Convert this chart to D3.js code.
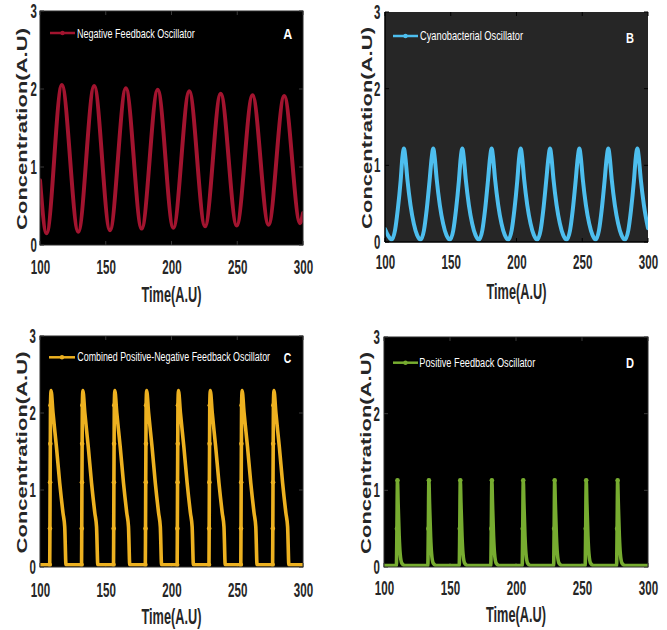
<!DOCTYPE html>
<html><head><meta charset="utf-8">
<script src="https://cdn.jsdelivr.net/npm/d3@7"></script>
<style>html,body{margin:0;padding:0;background:#fff;} svg{display:block;}</style>
</head><body><svg id="chart" width="667" height="630"></svg>
<script>
// ---------- data ----------
const timeTicks = [100, 150, 200, 250, 300];
const concTicks = [0, 1, 2, 3];
const xLabel = "Time(A.U)";
const yLabel = "Concentration(A.U)";
const seriesNames = ["Negative Feedback Oscillator", "Cyanobacterial Oscillator",
  "Combined Positive-Negative Feedback Oscillator", "Positive Feedback Oscillator"];
const panelLetters = ["A", "B", "C", "D"];

// [time, concentration]
const negativeFeedback = [
  [100,0.83],[105.0,0.15],[116.6,2.05],[129.1,0.17],[141.2,2.04],[153.2,0.19],[165.3,2.01],
  [177.3,0.21],[189.5,1.99],[201.4,0.22],[213.5,1.97],[225.5,0.24],[237.4,1.94],[249.6,0.25],
  [261.6,1.92],[273.8,0.26],[285.7,1.91],[297.8,0.28],[300,0.41]
];

const cyanobacterial = [
  [100,0.17],[102.5,0.08],[105.1,0.03],
  [107.6,0.15],[109.7,0.42],[111.9,0.8],[113.2,1.1],[114.4,1.22],[115.4,1.12],[117.0,0.82],[119.4,0.48],[121.9,0.24],[124.4,0.09],[127.1,0.03],
  [129.6,0.15],[131.7,0.42],[133.9,0.8],[135.5,1.1],[136.7,1.22],[137.7,1.12],[139.3,0.82],[141.7,0.48],[144.2,0.24],[146.7,0.09],[149.4,0.03],
  [151.9,0.15],[154.0,0.42],[156.2,0.8],[157.6,1.1],[158.8,1.22],[159.8,1.12],[161.4,0.82],[163.8,0.48],[166.3,0.24],[168.8,0.09],[171.5,0.03],
  [174.0,0.15],[176.1,0.42],[178.3,0.8],[179.9,1.1],[181.1,1.22],[182.1,1.12],[183.7,0.82],[186.1,0.48],[188.6,0.24],[191.1,0.09],[193.8,0.03],
  [196.3,0.15],[198.4,0.42],[200.6,0.8],[202.0,1.1],[203.2,1.22],[204.2,1.12],[205.8,0.82],[208.2,0.48],[210.7,0.24],[213.2,0.09],[215.8,0.03],
  [218.3,0.15],[220.4,0.42],[222.6,0.8],[224.3,1.1],[225.5,1.22],[226.5,1.12],[228.1,0.82],[230.5,0.48],[233.0,0.24],[235.5,0.09],[238.2,0.03],
  [240.7,0.15],[242.8,0.42],[245.0,0.8],[246.6,1.1],[247.8,1.22],[248.8,1.12],[250.4,0.82],[252.8,0.48],[255.3,0.24],[257.8,0.09],[260.2,0.03],
  [262.7,0.15],[264.8,0.42],[267.0,0.8],[268.6,1.1],[269.8,1.22],[270.8,1.12],[272.4,0.82],[274.8,0.48],[277.3,0.24],[279.8,0.09],[282.5,0.03],
  [285.0,0.15],[287.1,0.42],[289.3,0.8],[290.7,1.1],[291.9,1.22],[292.9,1.12],[294.5,0.82],[296.9,0.48],[300,0.18]
];

const combinedFeedback = [
  [100,0.03],
  [107.4,0.03],[107.55,0.5],[107.7,1.1],[107.85,1.6],[108.0,2.1],[108.4,2.29],[109.9,2.0],[112.5,1.56],[115.0,1.09],[117.5,0.70],[118.8,0.52],[119.2,0.3],[119.5,0.1],[119.8,0.03],
  [131.6,0.03],[131.75,0.5],[131.9,1.1],[132.05,1.6],[132.2,2.1],[132.6,2.29],[134.1,2.0],[136.7,1.56],[139.2,1.09],[141.7,0.70],[143.0,0.52],[143.4,0.3],[143.7,0.1],[144.0,0.03],
  [155.9,0.03],[156.05,0.5],[156.2,1.1],[156.35,1.6],[156.5,2.1],[156.9,2.29],[158.4,2.0],[161.0,1.56],[163.5,1.09],[166.0,0.70],[167.3,0.52],[167.7,0.3],[168.0,0.1],[168.3,0.03],
  [180.1,0.03],[180.25,0.5],[180.4,1.1],[180.55,1.6],[180.7,2.1],[181.1,2.29],[182.6,2.0],[185.2,1.56],[187.7,1.09],[190.2,0.70],[191.5,0.52],[191.9,0.3],[192.2,0.1],[192.5,0.03],
  [204.3,0.03],[204.45,0.5],[204.6,1.1],[204.75,1.6],[204.9,2.1],[205.3,2.29],[206.8,2.0],[209.4,1.56],[211.9,1.09],[214.4,0.70],[215.7,0.52],[216.1,0.3],[216.4,0.1],[216.7,0.03],
  [228.5,0.03],[228.65,0.5],[228.8,1.1],[228.95,1.6],[229.1,2.1],[229.5,2.29],[231.0,2.0],[233.6,1.56],[236.1,1.09],[238.6,0.70],[239.9,0.52],[240.3,0.3],[240.6,0.1],[240.9,0.03],
  [252.7,0.03],[252.85,0.5],[253.0,1.1],[253.15,1.6],[253.3,2.1],[253.7,2.29],[255.2,2.0],[257.8,1.56],[260.3,1.09],[262.8,0.70],[264.1,0.52],[264.5,0.3],[264.8,0.1],[265.1,0.03],
  [276.9,0.03],[277.05,0.5],[277.2,1.1],[277.35,1.6],[277.5,2.1],[277.9,2.29],[279.4,2.0],[282.0,1.56],[284.5,1.09],[287.0,0.70],[288.3,0.52],[288.7,0.3],[289.0,0.1],[289.3,0.03],
  [300,0.03]
];

const positiveFeedback = [
  [100,0.02],
  [109.4,0.02],[109.8,0.5],[110.2,1.13],[110.7,0.83],[111.5,0.40],[112.2,0.18],[113.5,0.05],[115.7,0.02],
  [133.2,0.02],[133.6,0.5],[134.0,1.13],[134.5,0.83],[135.3,0.40],[136.0,0.18],[137.3,0.05],[139.5,0.02],
  [157.0,0.02],[157.4,0.5],[157.8,1.13],[158.3,0.83],[159.1,0.40],[159.8,0.18],[161.1,0.05],[163.3,0.02],
  [180.9,0.02],[181.3,0.5],[181.7,1.13],[182.2,0.83],[183.0,0.40],[183.7,0.18],[185.0,0.05],[187.2,0.02],
  [204.7,0.02],[205.1,0.5],[205.5,1.13],[206.0,0.83],[206.8,0.40],[207.5,0.18],[208.8,0.05],[211.0,0.02],
  [228.5,0.02],[228.9,0.5],[229.3,1.13],[229.8,0.83],[230.6,0.40],[231.3,0.18],[232.6,0.05],[234.8,0.02],
  [252.4,0.02],[252.8,0.5],[253.2,1.13],[253.7,0.83],[254.5,0.40],[255.2,0.18],[256.5,0.05],[258.7,0.02],
  [276.2,0.02],[276.6,0.5],[277.0,1.13],[277.5,0.83],[278.3,0.40],[279.0,0.18],[280.3,0.05],[282.5,0.02],
  [300,0.02]
];

// ---------- layout ----------
const panels = [
  {data: negativeFeedback, color: "#A2142F", bg: "#000000", tick: "#3a3a3a", frame: "#2a2a2a", lw: 4,
   l: 40, r: 303, t: 11, b: 245, xtb: 273.5, ytr: 37, ylx: 26.5, xlb: 301.5,
   lg: {x0: 50, x1: 75, y: 33, tx: 77, tb: 37.5, tl: 118}, let: {x: 283.3, b: 39.3, w: 9}},
  {data: cyanobacterial, color: "#4DBEEE", bg: "#262626", tick: "#000000", frame: "#000000", lw: 4,
   l: 385, r: 648, t: 12, b: 242, xtb: 268.5, ytr: 380.5, ylx: 371.5, xlb: 298.5,
   lg: {x0: 393, x1: 418, y: 36, tx: 420, tb: 40, tl: 103}, let: {x: 626, b: 42.7, w: 8}},
  {data: combinedFeedback, color: "#EDB120", bg: "#000000", tick: "#3a3a3a", frame: "#2a2a2a", lw: 3.6,
   l: 40, r: 303, t: 336, b: 567, xtb: 596.7, ytr: 36, ylx: 26.5, xlb: 623.5,
   lg: {x0: 49, x1: 75, y: 357.3, tx: 77.3, tb: 361.3, tl: 193}, let: {x: 283.8, b: 362.7, w: 7.5}},
  {data: positiveFeedback, color: "#77AC30", bg: "#000000", tick: "#3a3a3a", frame: "#2a2a2a", lw: 3.6,
   l: 384, r: 648, t: 337, b: 567, xtb: 595, ytr: 380, ylx: 370.5, xlb: 622,
   lg: {x0: 393, x1: 418, y: 362.7, tx: 419.3, tb: 367.3, tl: 116}, let: {x: 626, b: 368.3, w: 8}}
];

const svg = d3.select("#chart");
svg.append("rect").attr("width", 667).attr("height", 630).attr("fill", "#fff");
const FONT = "'Liberation Sans', Arial, sans-serif";
const TXT = "#262626";

// squeeze a text horizontally (along its own direction) to a measured width
function fit(sel, width, rotate) {
  sel.each(function () {
    const t = d3.select(this);
    const ax = +t.attr("x") || 0, ay = +t.attr("y") || 0;
    const nat = this.getComputedTextLength();
    const k = width / nat;
    t.attr("x", 0).attr("y", 0)
      .attr("transform", `translate(${ax},${ay})${rotate ? " rotate(-90)" : ""} scale(${k},1)`);
  });
}

panels.forEach((p, i) => {
  const x = d3.scaleLinear().domain([100, 300]).range([p.l, p.r]);
  const y = d3.scaleLinear().domain([0, 3]).range([p.b, p.t]);
  const g = svg.append("g");

  g.append("rect").attr("x", p.l).attr("y", p.t).attr("width", p.r - p.l).attr("height", p.b - p.t)
    .attr("fill", p.bg);

  // inward ticks on four sides
  const tk = g.append("g").attr("stroke", p.tick).attr("stroke-width", 1);
  timeTicks.forEach(v => {
    tk.append("line").attr("x1", x(v)).attr("x2", x(v)).attr("y1", p.b).attr("y2", p.b - 4);
    tk.append("line").attr("x1", x(v)).attr("x2", x(v)).attr("y1", p.t).attr("y2", p.t + 4);
  });
  concTicks.forEach(v => {
    tk.append("line").attr("x1", p.l).attr("x2", p.l + 4).attr("y1", y(v)).attr("y2", y(v));
    tk.append("line").attr("x1", p.r).attr("x2", p.r - 4).attr("y1", y(v)).attr("y2", y(v));
  });

  const cid = "clip" + i;
  svg.append("clipPath").attr("id", cid).append("rect")
    .attr("x", p.l).attr("y", p.t - 2).attr("width", p.r - p.l).attr("height", p.b - p.t + 2);

  const line = d3.line().x(d => x(d[0])).y(d => y(d[1])).curve(d3.curveMonotoneX);
  const plot = g.append("g").attr("clip-path", `url(#${cid})`);
  plot.append("path").datum(p.data).attr("d", line).attr("fill", "none")
    .attr("stroke", p.color).attr("stroke-width", p.lw).attr("stroke-linejoin", "round")
    .attr("stroke-linecap", "round");
  // '.' markers: visible only where the trace is steep (rise / drop)
  const steep = p.data.filter((d, k) => {
    const a = p.data[k - 1], c = p.data[k + 1];
    const s1 = a ? Math.abs((d[1] - a[1]) / (d[0] - a[0])) : 0;
    const s2 = c ? Math.abs((c[1] - d[1]) / (c[0] - d[0])) : 0;
    return Math.max(s1, s2) > 1.5 && (i >= 2);
  });
  plot.selectAll("circle").data(steep).join("circle")
    .attr("cx", d => x(d[0])).attr("cy", d => y(d[1])).attr("r", 2.3).attr("fill", p.color);

  // frame
  if (i === 1) {
    g.append("line").attr("x1", p.l).attr("x2", p.r).attr("y1", p.b).attr("y2", p.b)
      .attr("stroke", "#000").attr("stroke-width", 1.5);
    g.append("line").attr("x1", p.l).attr("x2", p.l).attr("y1", p.t).attr("y2", p.b)
      .attr("stroke", "#000").attr("stroke-width", 1.5);
  } else {
    g.append("rect").attr("x", p.l).attr("y", p.t).attr("width", p.r - p.l).attr("height", p.b - p.t)
      .attr("fill", "none").attr("stroke", p.frame).attr("stroke-width", 1);
  }

  // x axis labels via d3 axis
  const xa = g.append("g").attr("transform", `translate(0,${p.b})`)
    .call(d3.axisBottom(x).tickValues(timeTicks).tickSize(0).tickFormat(d3.format("d")));
  xa.select(".domain").remove();
  const xt = xa.selectAll("text").attr("y", p.xtb - p.b).attr("dy", null)
    .attr("font-family", FONT).attr("font-weight", "bold").attr("font-size", 19.5).attr("fill", TXT);
  fit(xt, 19.3);

  // y axis labels via d3 axis
  const ya = g.append("g").attr("transform", `translate(${p.l},0)`)
    .call(d3.axisLeft(y).tickValues(concTicks).tickSize(0).tickFormat(d3.format("d")));
  ya.select(".domain").remove();
  const yt = ya.selectAll("text").attr("x", p.ytr - p.l).attr("dy", "0.34em").attr("text-anchor", "end")
    .attr("font-family", FONT).attr("font-weight", "bold").attr("font-size", 19.5).attr("fill", TXT);
  fit(yt, 6.4);

  // axis titles
  const xl = g.append("text").attr("x", (p.l + p.r) / 2).attr("y", p.xlb).attr("text-anchor", "middle")
    .attr("font-family", FONT).attr("font-weight", "bold").attr("font-size", 22)
    .attr("fill", TXT).text(xLabel);
  fit(xl, 60);
  const yl = g.append("text").attr("x", p.ylx).attr("y", (p.t + p.b) / 2 + 1)
    .attr("text-anchor", "middle")
    .attr("font-family", FONT).attr("font-weight", "bold").attr("font-size", 15.5)
    .attr("fill", TXT).text(yLabel);
  fit(yl, 202, true);

  // legend
  g.append("line").attr("x1", p.lg.x0).attr("x2", p.lg.x1).attr("y1", p.lg.y).attr("y2", p.lg.y)
    .attr("stroke", p.color).attr("stroke-width", 2.5);
  g.append("circle").attr("cx", (p.lg.x0 + p.lg.x1) / 2).attr("cy", p.lg.y).attr("r", 2.2).attr("fill", p.color);
  const lt = g.append("text").attr("x", p.lg.tx).attr("y", p.lg.tb)
    .attr("font-family", FONT).attr("font-size", 12.5).attr("fill", "#fff").text(seriesNames[i]);
  fit(lt, p.lg.tl);

  // panel letter
  const pl = g.append("text").attr("x", p.let.x).attr("y", p.let.b)
    .attr("font-family", FONT).attr("font-weight", "bold").attr("font-size", 15.5).attr("fill", "#fff")
    .text(panelLetters[i]);
  fit(pl, p.let.w);
});
</script></body></html>
